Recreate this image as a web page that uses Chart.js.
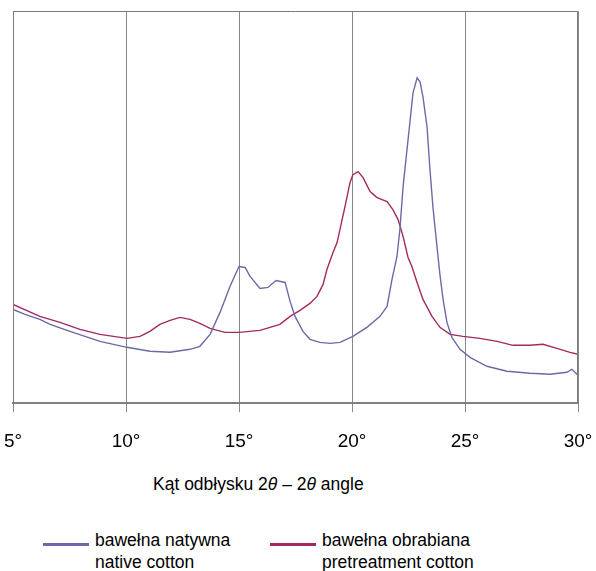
<!DOCTYPE html>
<html>
<head>
<meta charset="utf-8">
<script src="https://cdn.jsdelivr.net/npm/chart.js@4/dist/chart.umd.min.js"></script>
<style>
  html, body { margin: 0; padding: 0; background: #fff; }
  body { width: 596px; height: 571px; position: relative; overflow: hidden; font-family: "Liberation Sans", Arial, sans-serif; color: #000; }
  #wrap { position: absolute; left: 0; top: 0; width: 596px; height: 471px; }
  #xtitle { position: absolute; left: 153px; top: 474px; font-size: 17.5px; white-space: nowrap; }
  .leg { position: absolute; font-size: 17.5px; line-height: 22px; }
  .sw { position: absolute; height: 3px; }
</style>
</head>
<body>
<div id="wrap"><canvas id="c"></canvas></div>
<div id="xtitle">Kąt odbłysku 2<i>θ</i> – 2<i>θ</i> angle</div>
<div class="sw" style="left:43px; top:543px; width:46px; background:#6A6AA6;"></div>
<div class="leg" style="left:95px; top:529px;">bawełna natywna<br>native cotton</div>
<div class="sw" style="left:270px; top:543px; width:46px; background:#A32A60;"></div>
<div class="leg" style="left:322px; top:529px;">bawełna obrabiana<br>pretreatment cotton</div>
<script>
// 2θ angle (degrees) and relative intensity (arbitrary units)
const nativeAngle = [5.00,5.53,6.19,6.64,7.52,8.85,10.04,11.06,11.95,12.83,13.27,13.72,14.16,14.60,15.00,15.27,15.49,15.93,16.28,16.64,17.04,17.26,17.48,17.83,18.14,18.58,19.03,19.47,20.04,20.66,21.24,21.55,21.77,21.99,22.12,22.26,22.48,22.70,22.88,23.01,23.14,23.32,23.45,23.58,23.76,23.89,24.03,24.20,24.42,24.78,25.22,25.97,26.86,27.88,28.76,29.51,29.73,30.00];
const nativeIntensity = [94,89,84,79,72,62,56,52,51,54,57,69,91,117,137,136,127,115,116,123,121,102,87,72,64,61,60,61,67,76,87,97,124,147,174,217,264,311,326,322,307,277,234,197,157,129,104,81,66,54,46,37,32,30,29,31,34,28];

const treatedAngle = [5.00,6.19,7.08,7.96,8.85,10.04,10.62,11.06,11.50,11.95,12.39,12.83,13.27,13.72,14.38,15.00,15.93,16.81,17.26,17.70,18.14,18.45,18.72,18.89,19.16,19.34,19.69,19.91,20.04,20.27,20.49,20.80,21.11,21.55,21.81,22.04,22.26,22.48,22.65,22.88,23.14,23.54,23.89,24.34,24.91,25.66,26.42,27.12,27.88,28.45,29.07,29.65,30.00];
const treatedIntensity = [99,87,81,74,69,65,67,72,79,83,86,84,80,75,71,71,73,79,87,93,100,107,119,134,151,161,197,221,229,232,226,212,206,202,194,184,167,146,137,121,104,87,76,69,67,65,62,58,58,59,55,51,49];

const xTicks = [5,10,15,20,25,30];

const toPts = (xs, ys) => xs.map((x, i) => ({x: x, y: ys[i]}));

const frame = {
  id: 'frame',
  afterDraw(chart) {
    const {ctx, chartArea: a} = chart;
    ctx.save();
    ctx.strokeStyle = '#7a7a7a';
    ctx.lineWidth = 1;
    ctx.beginPath();
    ctx.moveTo(a.left + 0.5, a.bottom);
    ctx.lineTo(a.left + 0.5, a.top + 0.5);
    ctx.lineTo(a.right - 0.5, a.top + 0.5);
    ctx.lineTo(a.right - 0.5, a.bottom);
    ctx.stroke();
    ctx.restore();
  }
};

new Chart(document.getElementById('c'), {
  type: 'line',
  data: {
    datasets: [
      { label: 'bawełna natywna', data: toPts(nativeAngle, nativeIntensity), borderColor: '#6A6AA6', borderWidth: 1.4, pointRadius: 0, tension: 0, fill: false },
      { label: 'bawełna obrabiana', data: toPts(treatedAngle, treatedIntensity), borderColor: '#A32A60', borderWidth: 1.4, pointRadius: 0, tension: 0, fill: false }
    ]
  },
  options: {
    responsive: true,
    maintainAspectRatio: false,
    animation: false,
    layout: { padding: { left: 0, right: 0, top: 11, bottom: 0 } },
    plugins: { legend: { display: false }, tooltip: { enabled: false } },
    scales: {
      x: {
        type: 'linear', min: 5, max: 30,
        afterBuildTicks(axis) { axis.ticks = xTicks.map(v => ({value: v})); },
        afterFit(axis) { axis.paddingLeft = 13; axis.paddingRight = 18; },
        ticks: { callback: v => v + '°', color: '#000', font: { family: 'Liberation Sans, Arial', size: 19 }, padding: 18, maxRotation: 0 },
        grid: { color: '#888', lineWidth: 1, tickLength: 9, drawTicks: true },
        border: { color: '#808080', width: 2 }
      },
      y: {
        min: 0, max: 393,
        ticks: { display: false },
        grid: { display: false, drawTicks: false },
        border: { display: false }
      }
    }
  },
  plugins: [frame]
});
</script>
</body>
</html>
